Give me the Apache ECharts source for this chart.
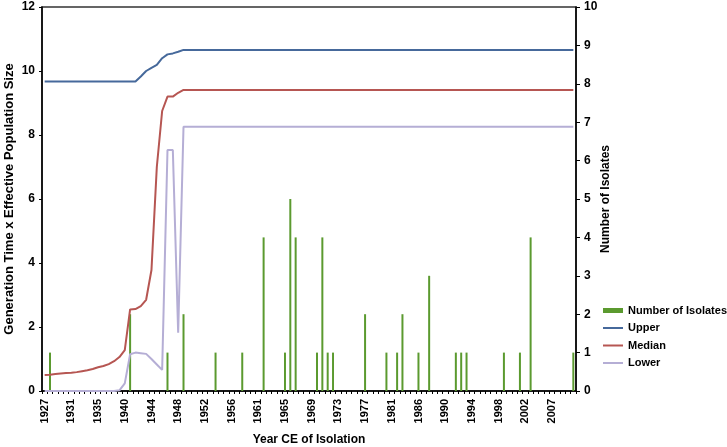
<!DOCTYPE html>
<html>
<head>
<meta charset="utf-8">
<script src="https://cdn.jsdelivr.net/npm/echarts@6.0.0/dist/echarts.min.js"></script>
<style>
  html, body { margin: 0; padding: 0; background: #fff; }
  #chart { width: 727px; height: 447px; }
</style>
</head>
<body>
<div id="chart"></div>
<script>
// x categories (year of each sampling step, shown every 5th)
var years = [
  '1927', '1928', '1929', '1930', '1930', '1931', '1932', '1933', '1934', '1935',
  '1935', '1936', '1937', '1938', '1939', '1940', '1940', '1941', '1942', '1943',
  '1944', '1945', '1945', '1946', '1947', '1948', '1949', '1950', '1951', '1951',
  '1952', '1953', '1954', '1955', '1956', '1956', '1957', '1958', '1959', '1960',
  '1961', '1961', '1962', '1963', '1964', '1965', '1966', '1966', '1967', '1968',
  '1969', '1970', '1971', '1971', '1972', '1973', '1974', '1975', '1976', '1976',
  '1977', '1978', '1979', '1980', '1981', '1981', '1982', '1983', '1984', '1985',
  '1986', '1986', '1987', '1988', '1989', '1990', '1991', '1991', '1992', '1993',
  '1994', '1995', '1996', '1996', '1997', '1998', '1999', '2000', '2001', '2002',
  '2002', '2003', '2004', '2005', '2006', '2007', '2007', '2008', '2009', '2010'
];

// number of isolates (right axis)
var isolates = [
  0, 1, 0, 0, 0, 0, 0, 0, 0, 0,
  0, 0, 0, 0, 0, 0, 2, 0, 0, 0,
  0, 0, 0, 1, 0, 0, 2, 0, 0, 0,
  0, 0, 1, 0, 0, 0, 0, 1, 0, 0,
  0, 4, 0, 0, 0, 1, 5, 4, 0, 0,
  0, 1, 4, 1, 1, 0, 0, 0, 0, 0,
  2, 0, 0, 0, 1, 0, 1, 2, 0, 0,
  1, 0, 3, 0, 0, 0, 0, 1, 1, 1,
  0, 0, 0, 0, 0, 0, 1, 0, 0, 1,
  0, 4, 0, 0, 0, 0, 0, 0, 0, 1
];

// generation time x Ne (left axis)
var upper = [
  9.67, 9.67, 9.67, 9.67, 9.67, 9.67, 9.67, 9.67, 9.67, 9.67,
  9.67, 9.67, 9.67, 9.67, 9.67, 9.67, 9.67, 9.67, 9.83, 10.0,
  10.1, 10.19, 10.4, 10.52, 10.55, 10.6, 10.66, 10.66, 10.66, 10.66,
  10.66, 10.66, 10.66, 10.66, 10.66, 10.66, 10.66, 10.66, 10.66, 10.66,
  10.66, 10.66, 10.66, 10.66, 10.66, 10.66, 10.66, 10.66, 10.66, 10.66,
  10.66, 10.66, 10.66, 10.66, 10.66, 10.66, 10.66, 10.66, 10.66, 10.66,
  10.66, 10.66, 10.66, 10.66, 10.66, 10.66, 10.66, 10.66, 10.66, 10.66,
  10.66, 10.66, 10.66, 10.66, 10.66, 10.66, 10.66, 10.66, 10.66, 10.66,
  10.66, 10.66, 10.66, 10.66, 10.66, 10.66, 10.66, 10.66, 10.66, 10.66,
  10.66, 10.66, 10.66, 10.66, 10.66, 10.66, 10.66, 10.66, 10.66, 10.66
];
var median = [
  0.50, 0.51, 0.53, 0.55, 0.56, 0.57, 0.59, 0.62, 0.65, 0.69,
  0.74, 0.78, 0.84, 0.93, 1.06, 1.28, 2.55, 2.56, 2.65, 2.85,
  3.78, 7.0, 8.75, 9.2, 9.2, 9.32, 9.41, 9.41, 9.41, 9.41,
  9.41, 9.41, 9.41, 9.41, 9.41, 9.41, 9.41, 9.41, 9.41, 9.41,
  9.41, 9.41, 9.41, 9.41, 9.41, 9.41, 9.41, 9.41, 9.41, 9.41,
  9.41, 9.41, 9.41, 9.41, 9.41, 9.41, 9.41, 9.41, 9.41, 9.41,
  9.41, 9.41, 9.41, 9.41, 9.41, 9.41, 9.41, 9.41, 9.41, 9.41,
  9.41, 9.41, 9.41, 9.41, 9.41, 9.41, 9.41, 9.41, 9.41, 9.41,
  9.41, 9.41, 9.41, 9.41, 9.41, 9.41, 9.41, 9.41, 9.41, 9.41,
  9.41, 9.41, 9.41, 9.41, 9.41, 9.41, 9.41, 9.41, 9.41, 9.41
];
var lower = [
  0, 0, 0, 0, 0, 0, 0, 0, 0, 0,
  0, 0, 0, 0, 0.02, 0.24, 1.15, 1.2, 1.18, 1.16,
  1.0, 0.83, 0.66, 7.53, 7.53, 1.82, 8.26, 8.26, 8.26, 8.26,
  8.26, 8.26, 8.26, 8.26, 8.26, 8.26, 8.26, 8.26, 8.26, 8.26,
  8.26, 8.26, 8.26, 8.26, 8.26, 8.26, 8.26, 8.26, 8.26, 8.26,
  8.26, 8.26, 8.26, 8.26, 8.26, 8.26, 8.26, 8.26, 8.26, 8.26,
  8.26, 8.26, 8.26, 8.26, 8.26, 8.26, 8.26, 8.26, 8.26, 8.26,
  8.26, 8.26, 8.26, 8.26, 8.26, 8.26, 8.26, 8.26, 8.26, 8.26,
  8.26, 8.26, 8.26, 8.26, 8.26, 8.26, 8.26, 8.26, 8.26, 8.26,
  8.26, 8.26, 8.26, 8.26, 8.26, 8.26, 8.26, 8.26, 8.26, 8.26
];

var font = 'Arial, "Liberation Sans", sans-serif';
var myChart = echarts.init(document.getElementById('chart'), null, { renderer: 'canvas' });

var lineSeries = function (name, data, color) {
  return {
    name: name,
    type: 'line',
    yAxisIndex: 0,
    data: data,
    symbol: 'none',
    smooth: false,
    lineStyle: { color: color, width: 2 },
    itemStyle: { color: color }
  };
};

var option = {
  animation: false,
  textStyle: { fontFamily: font },
  grid: {
    left: 42, right: 151, top: 7, bottom: 56,
    outerBoundsMode: 'none',
    show: true, borderColor: '#333', borderWidth: 1.5
  },
  legend: {
    orient: 'vertical',
    left: 597, top: 300,
    itemWidth: 20, itemHeight: 5, itemGap: 6.5,
    data: [
      { name: 'Number of Isolates', icon: 'rect' },
      { name: 'Upper', itemStyle: { opacity: 0 } },
      { name: 'Median', itemStyle: { opacity: 0 } },
      { name: 'Lower', itemStyle: { opacity: 0 } }
    ],
    textStyle: { color: '#000', fontWeight: 'bold', fontSize: 11, fontFamily: font }
  },
  xAxis: {
    type: 'category',
    data: years,
    boundaryGap: true,
    name: 'Year CE of Isolation',
    nameLocation: 'middle',
    nameGap: 43,
    nameTextStyle: { color: '#000', fontWeight: 'bold', fontSize: 12, fontFamily: font },
    axisLine: { lineStyle: { color: '#000', width: 1.5 } },
    axisTick: { show: true, interval: 0, length: 3, lineStyle: { color: '#000' } },
    axisLabel: {
      interval: 4, rotate: 90, margin: 8,
      color: '#000', fontWeight: 'bold', fontSize: 11, fontFamily: font
    },
    splitLine: { show: false }
  },
  yAxis: [
    {
      type: 'value',
      min: 0, max: 12, interval: 2,
      position: 'left',
      name: 'Generation Time x Effective Population Size',
      nameLocation: 'middle',
      nameRotate: 90,
      nameGap: 26,
      nameMoveOverlap: false,
      nameTextStyle: { color: '#000', fontWeight: 'bold', fontSize: 13, fontFamily: font },
      axisLine: { show: true, lineStyle: { color: '#000', width: 1.5 } },
      axisTick: { show: true, length: 3, lineStyle: { color: '#000' } },
      axisLabel: { margin: 7, color: '#000', fontWeight: 'bold', fontSize: 12, fontFamily: font },
      splitLine: { show: false }
    },
    {
      type: 'value',
      min: 0, max: 10, interval: 1,
      position: 'right',
      name: 'Number of Isolates',
      nameLocation: 'middle',
      nameRotate: 90,
      nameGap: 24,
      nameMoveOverlap: false,
      nameTextStyle: { color: '#000', fontWeight: 'bold', fontSize: 12, fontFamily: font },
      axisLine: { show: true, lineStyle: { color: '#000', width: 1.5 } },
      axisTick: { show: true, length: 4, lineStyle: { color: '#000' } },
      axisLabel: { margin: 8, color: '#000', fontWeight: 'bold', fontSize: 12, fontFamily: font },
      splitLine: { show: false }
    }
  ],
  series: [
    {
      name: 'Number of Isolates',
      type: 'bar',
      yAxisIndex: 1,
      data: isolates,
      barWidth: 2,
      itemStyle: { color: '#5b9a2f' }
    },
    lineSeries('Upper', upper, '#46699b'),
    lineSeries('Median', median, '#b65652'),
    lineSeries('Lower', lower, '#b5aed5')
  ]
};

myChart.setOption(option);
</script>
</body>
</html>
